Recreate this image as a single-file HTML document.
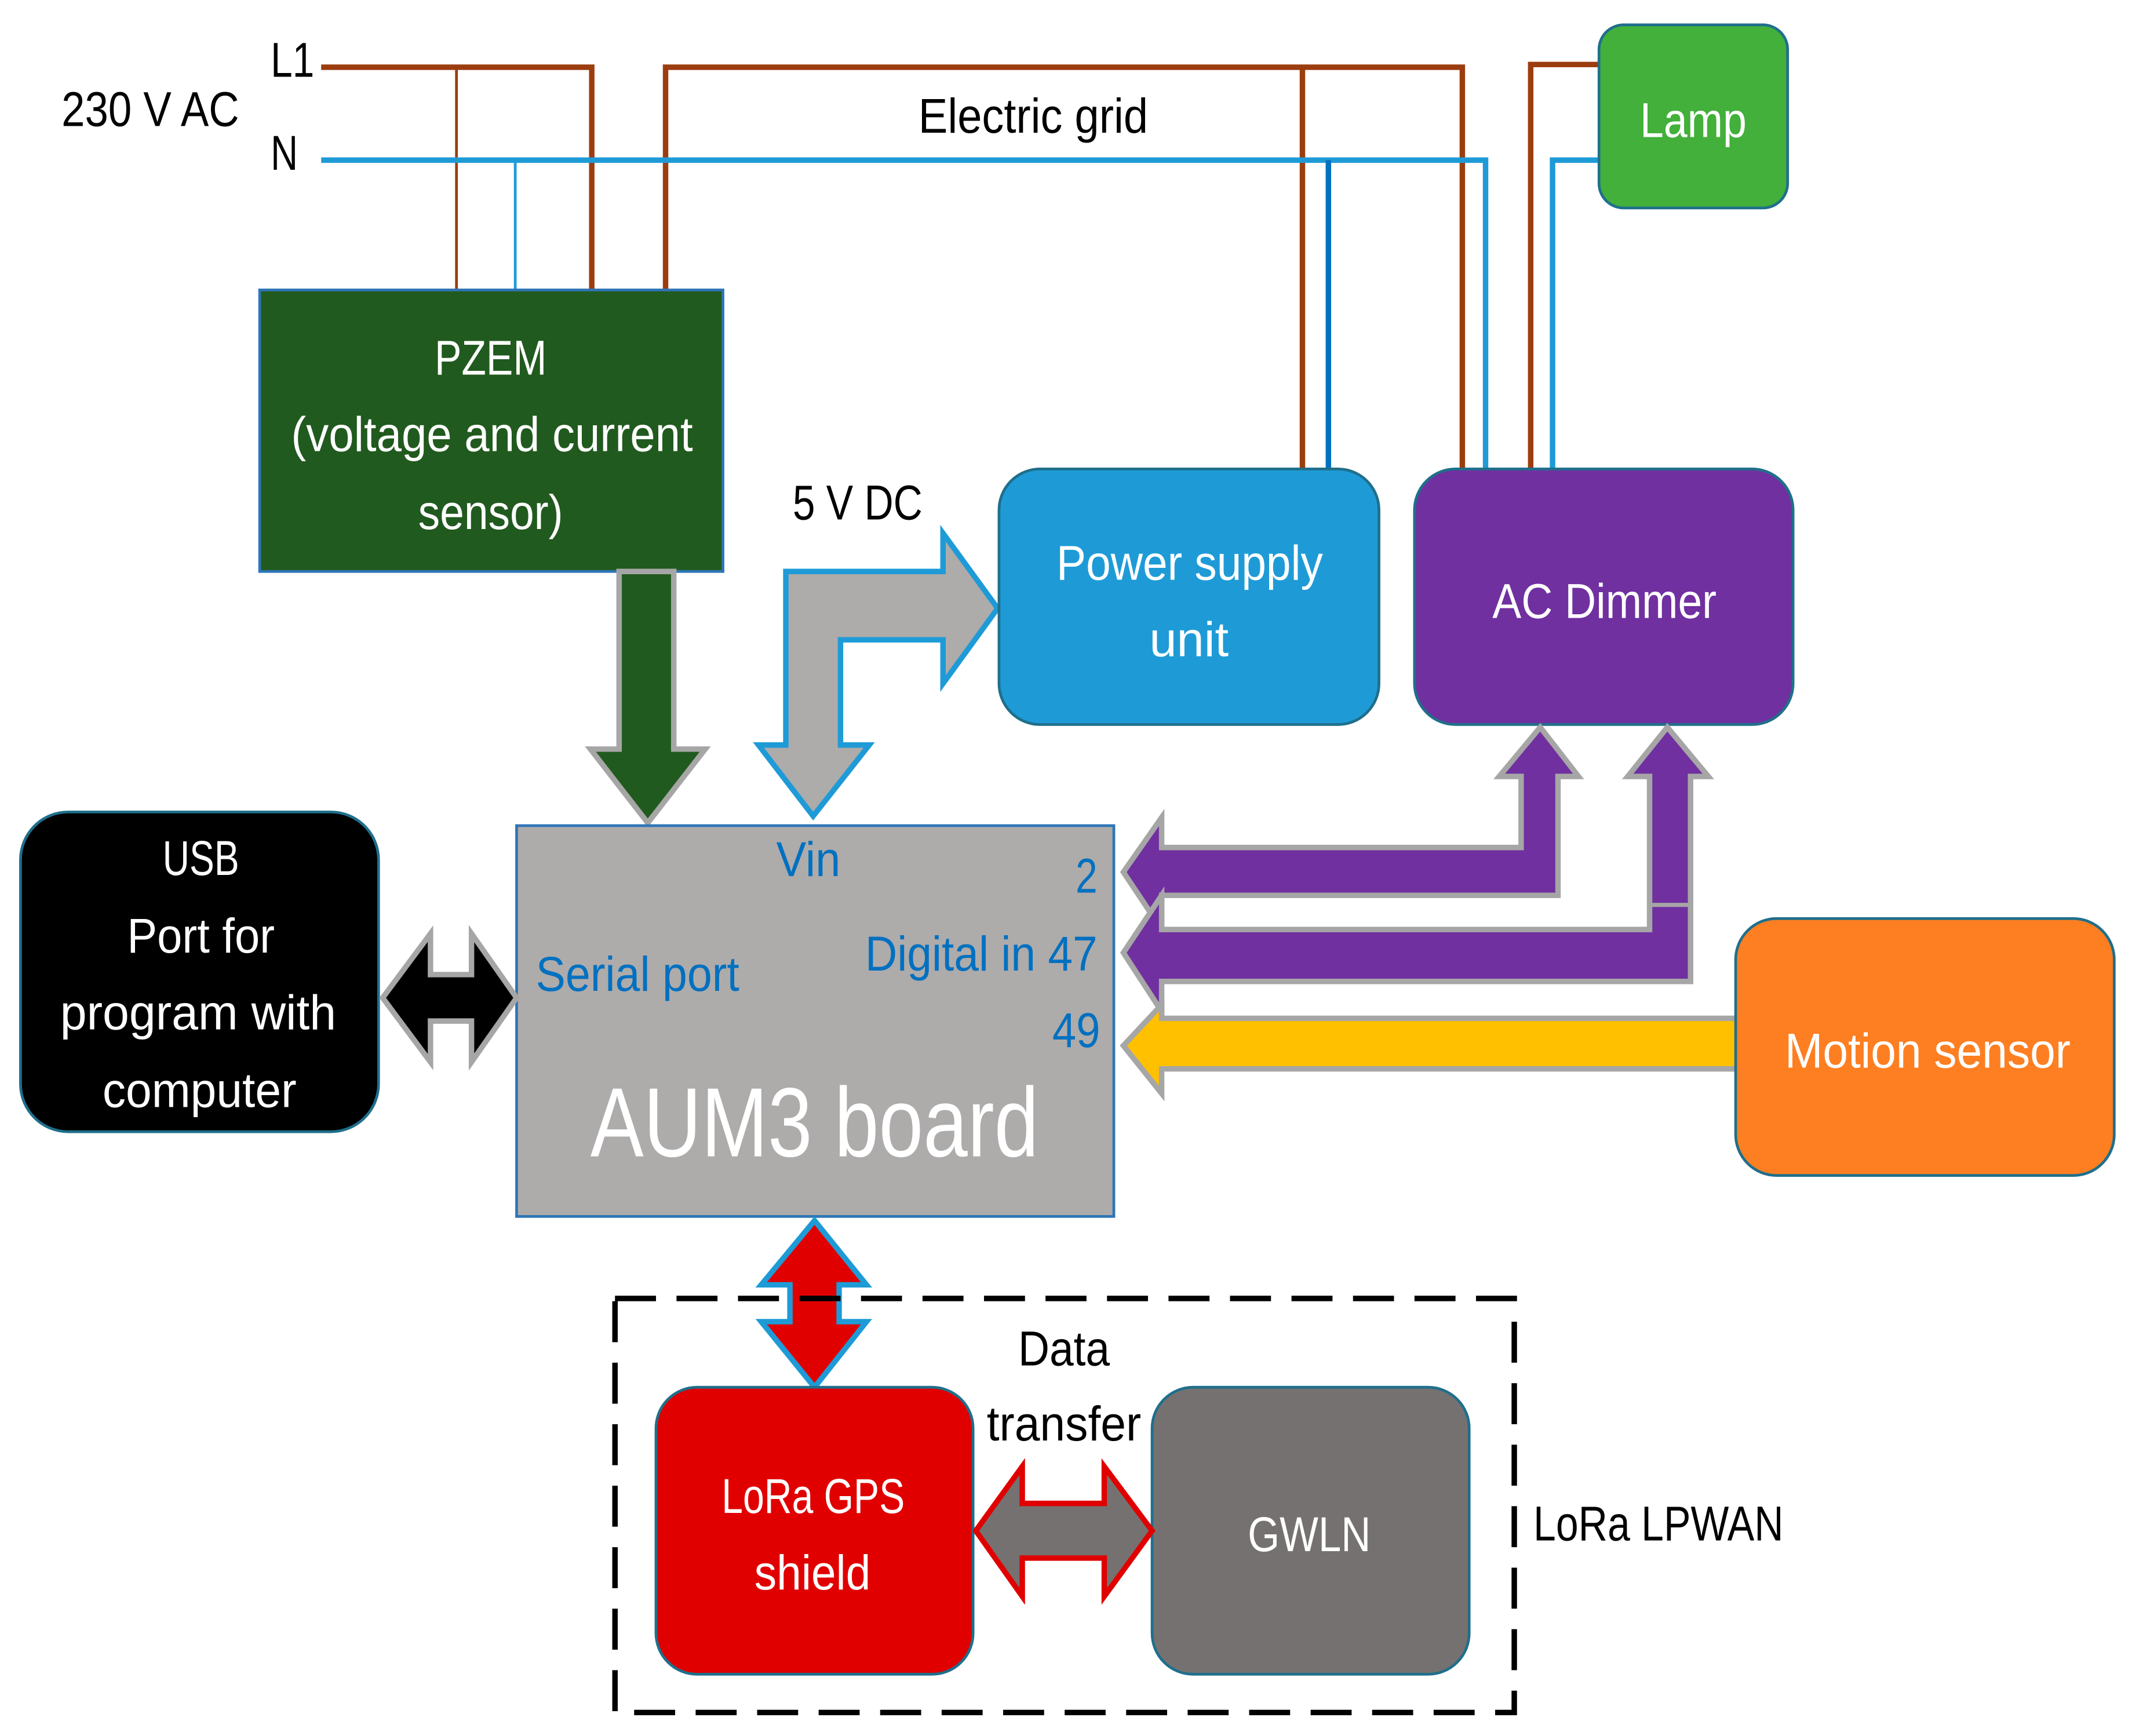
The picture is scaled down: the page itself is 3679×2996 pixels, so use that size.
<!DOCTYPE html>
<html><head><meta charset="utf-8"><style>
html,body{margin:0;padding:0;background:#fff;}
svg{display:block;}
text{font-family:"Liberation Sans Narrow","Liberation Sans",sans-serif;font-size:36px;}
</style></head><body>
<svg width="3679" height="2996" viewBox="0 0 1560 1270" xmlns="http://www.w3.org/2000/svg">
<rect width="1560" height="1270" fill="#fff"/>
<g fill="none" stroke-linejoin="miter">
<polyline points="235,49 433,49 433,212" stroke="#9C3D0F" stroke-width="4"/>
<line x1="334" y1="49" x2="334" y2="212" stroke="#9C3D0F" stroke-width="2"/>
<polyline points="487,212 487,49 1070,49 1070,343" stroke="#9C3D0F" stroke-width="4"/>
<line x1="953" y1="49" x2="953" y2="343" stroke="#9C3D0F" stroke-width="4"/>
<polyline points="1120,343 1120,47 1170,47" stroke="#9C3D0F" stroke-width="4"/>
<polyline points="235,117 1087,117 1087,343" stroke="#1E9BD7" stroke-width="4"/>
<line x1="377" y1="117" x2="377" y2="212" stroke="#1E9BD7" stroke-width="2"/>
<line x1="972" y1="117" x2="972" y2="343" stroke="#0070C0" stroke-width="4"/>
<polyline points="1136,343 1136,117 1170,117" stroke="#1E9BD7" stroke-width="4"/>
</g>
<g lengthAdjust="spacingAndGlyphs">
<text x="45" y="92" textLength="130" lengthAdjust="spacingAndGlyphs">230 V AC</text>
<text x="198" y="56" textLength="32" lengthAdjust="spacingAndGlyphs">L1</text>
<text x="198" y="124" textLength="20" lengthAdjust="spacingAndGlyphs">N</text>
<text x="672" y="97" textLength="168" lengthAdjust="spacingAndGlyphs">Electric grid</text>
</g>
<rect x="1170" y="18" width="138" height="134" rx="18" fill="#42B03A" stroke="#1F6F8B" stroke-width="2"/>
<text x="1200" y="100" fill="#fff" textLength="78" lengthAdjust="spacingAndGlyphs">Lamp</text>
<rect x="190" y="212" width="339" height="206" fill="#215A1E" stroke="#2E75B6" stroke-width="2"/>
<text x="318" y="274" fill="#fff" textLength="82" lengthAdjust="spacingAndGlyphs">PZEM</text>
<text x="213" y="330" fill="#fff" textLength="294" lengthAdjust="spacingAndGlyphs">(voltage and current</text>
<text x="306" y="387" fill="#fff" textLength="106" lengthAdjust="spacingAndGlyphs">sensor)</text>
<polygon points="453,418 493,418 493,548 516,548 474,602 432,548 453,548" fill="#215A1E" stroke="#A6A6A6" stroke-width="4"/>
<polygon points="575,545 575,418 690,418 690,390 730,445 690,500 690,468 615,468 615,545 636,545 595,597 555,545" fill="#AEABAB" stroke="#1E9BD7" stroke-width="4"/>
<text x="580" y="380" textLength="95" lengthAdjust="spacingAndGlyphs">5 V DC</text>
<rect x="731" y="343" width="278" height="187" rx="30" fill="#1E9BD7" stroke="#1F6F8B" stroke-width="2"/>
<text x="773" y="424" fill="#fff" textLength="195" lengthAdjust="spacingAndGlyphs">Power supply</text>
<text x="841" y="480" fill="#fff" textLength="58" lengthAdjust="spacingAndGlyphs">unit</text>
<rect x="1035" y="343" width="277" height="187" rx="30" fill="#7030A0" stroke="#1F6F8B" stroke-width="2"/>
<text x="1092" y="452" fill="#fff" textLength="164" lengthAdjust="spacingAndGlyphs">AC Dimmer</text>
<polygon points="1127,532 1155,568 1140,568 1140,655 850,655 850,680 822,638 850,598 850,620 1113,620 1113,568 1097,568" fill="#7030A0" stroke="#A6A6A6" stroke-width="4"/>
<polygon points="1220,532 1250,568 1237,568 1237,718 850,718 850,740 822,697 850,655 850,680 1207,680 1207,568 1191,568" fill="#7030A0" stroke="#A6A6A6" stroke-width="4"/>
<line x1="1207" y1="662" x2="1237" y2="662" stroke="#A6A6A6" stroke-width="3"/>
<polygon points="1272,745 1272,782 850,782 850,800 822,765 850,735 850,745" fill="#FFC000" stroke="#A6A6A6" stroke-width="4"/>
<rect x="1270" y="672" width="277" height="188" rx="30" fill="#FD7F22" stroke="#1F6F8B" stroke-width="2"/>
<text x="1306" y="781" fill="#fff" textLength="209" lengthAdjust="spacingAndGlyphs">Motion sensor</text>
<rect x="378" y="604" width="437" height="286" fill="#AEABAB" stroke="#2E75B6" stroke-width="2"/>
<text x="568" y="641" fill="#0070C0" textLength="47" lengthAdjust="spacingAndGlyphs">Vin</text>
<text x="787" y="653" fill="#0070C0" textLength="16" lengthAdjust="spacingAndGlyphs">2</text>
<text x="392" y="725" fill="#0070C0" textLength="149" lengthAdjust="spacingAndGlyphs">Serial port</text>
<text x="633" y="710" fill="#0070C0" textLength="170" lengthAdjust="spacingAndGlyphs">Digital in 47</text>
<text x="770" y="766" fill="#0070C0" textLength="35" lengthAdjust="spacingAndGlyphs">49</text>
<text x="432" y="846" fill="#fff" style="font-size:72px" textLength="328" lengthAdjust="spacingAndGlyphs">AUM3 board</text>
<rect x="15" y="594" width="262" height="234" rx="35" fill="#000" stroke="#1F6F8B" stroke-width="2"/>
<text x="119" y="640" fill="#fff" textLength="56" lengthAdjust="spacingAndGlyphs">USB</text>
<text x="93" y="697" fill="#fff" textLength="108" lengthAdjust="spacingAndGlyphs">Port for</text>
<text x="44" y="753" fill="#fff" textLength="202" lengthAdjust="spacingAndGlyphs">program  with</text>
<text x="75" y="810" fill="#fff" textLength="142" lengthAdjust="spacingAndGlyphs">computer</text>
<polygon points="280,730 315,683 315,713 345,713 345,683 378,730 345,777 345,747 315,747 315,777" fill="#000" stroke="#A6A6A6" stroke-width="4"/>
<polygon points="596,893 634,940 614,940 614,967 634,967 596,1015 557,967 578,967 578,940 557,940" fill="#E00000" stroke="#1E9BD7" stroke-width="4"/>
<rect x="450" y="950" width="658" height="303" fill="none" stroke="#000" stroke-width="4" stroke-dasharray="30,15"/>
<rect x="480" y="1015" width="232" height="210" rx="30" fill="#E00000" stroke="#1F6F8B" stroke-width="2"/>
<text x="528" y="1107" fill="#fff" textLength="134" lengthAdjust="spacingAndGlyphs">LoRa GPS</text>
<text x="552" y="1163" fill="#fff" textLength="85" lengthAdjust="spacingAndGlyphs">shield</text>
<rect x="843" y="1015" width="232" height="210" rx="30" fill="#767171" stroke="#1F6F8B" stroke-width="2"/>
<text x="913" y="1135" fill="#fff" textLength="90" lengthAdjust="spacingAndGlyphs">GWLN</text>
<polygon points="714,1120 748,1073 748,1100 808,1100 808,1073 843,1120 808,1168 808,1140 748,1140 748,1168" fill="#767171" stroke="#E00000" stroke-width="4"/>
<text x="745" y="999" textLength="67" lengthAdjust="spacingAndGlyphs">Data</text>
<text x="722" y="1054" textLength="113" lengthAdjust="spacingAndGlyphs">transfer</text>
<text x="1122" y="1127" textLength="183" lengthAdjust="spacingAndGlyphs">LoRa LPWAN</text>
</svg>
</body></html>
